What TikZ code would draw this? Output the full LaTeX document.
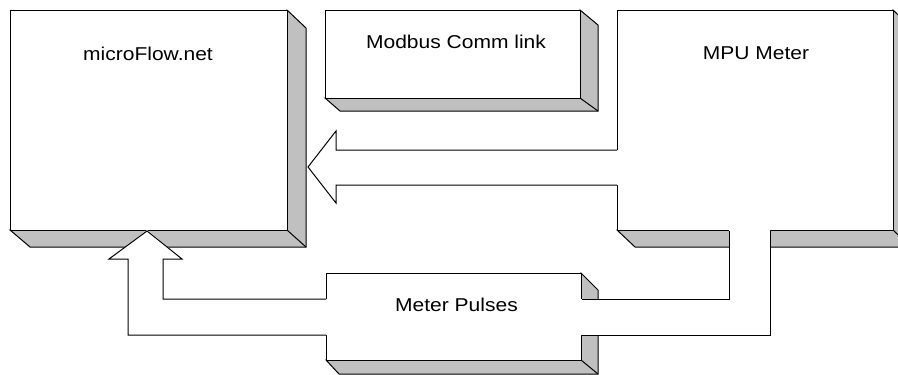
\documentclass[tikz,border=0pt]{standalone}
\usepackage{fontspec}
\newfontfamily\lab[FakeStretch=1.13]{Liberation Sans}
\usetikzlibrary{calc}
\definecolor{shade}{HTML}{C0C0C0}
\tikzset{
  face/.style={draw=black, fill=white, line width=1pt, rectangle, inner sep=0pt, anchor=north west},
  sidepart/.style={draw=black, fill=shade, line width=1pt, line join=miter},
  pipefill/.style={fill=white, draw=none},
  pipeline/.style={draw=black, line width=1pt, line join=miter},
  txt/.style={font=\lab\fontsize{18.6}{22}\selectfont, anchor=base, inner sep=0pt}
}
\begin{document}
\begin{tikzpicture}[x=1pt,y=-1pt]
\clip (0,0) rectangle (898,375);
\fill[white] (0,0) rectangle (898,375);

% microFlow.net box
\draw[sidepart] (287,10) -- (306,28) -- (306,247) -- (30,247) -- (10,230) -- (287,230) -- cycle;
\draw[pipeline] (287,230) -- (306,247);
\node[face, minimum width=277pt, minimum height=220pt] (mf) at (10,10) {};
\node[txt] (mft) at (148,60) {microFlow.net};

% Modbus box
\draw[sidepart] (580,10) -- (598,25) -- (598,111) -- (340,111) -- (325,98) -- (580,98) -- cycle;
\draw[pipeline] (580,98) -- (598,111);
\node[face, minimum width=255pt, minimum height=88pt] (mb) at (325,10) {};
\node[txt] (mbt) at (456,48) {Modbus Comm link};

% MPU Meter box
\draw[sidepart] (893,10) -- (911,27) -- (911,247) -- (635,247) -- (617,230) -- (893,230) -- cycle;
\draw[pipeline] (893,230) -- (911,247);
\node[face, minimum width=276pt, minimum height=220pt] (mpu) at (617,10) {};
\node[txt] (mput) at (756,59) {MPU Meter};

% Meter Pulses box
\draw[sidepart] (581,273) -- (598,290) -- (598,374) -- (339,374) -- (326,360) -- (581,360) -- cycle;
\draw[pipeline] (581,360) -- (598,374);
\node[face, minimum width=255pt, minimum height=87pt] (mp) at (326,273) {};

% block arrow MPU -> microFlow
\coordinate (tipA) at ($(mf.east |- 0,167)+(20,0)$);
\fill[pipefill] ($(mpu.north west)+(3,140)$) -- (336,150) -- (336,131) -- (tipA) -- (336,203) -- (336,185) -- ($(mpu.north west)+(3,175)$) -- cycle;
\draw[pipeline] (mpu.north west |- 0,150) -- (336,150) -- (336,131) -- (tipA) -- (336,203) -- (336,185) -- (mpu.north west |- 0,185);

% pipe MPU -> Meter Pulses (right side)
\fill[pipefill] (729,229) -- (729,299) -- (580,299) -- (580,335) -- (770,335) -- (770,229) -- cycle;
\draw[pipeline] (mpu.south west -| 729,0) -- (729,299) -- (mp.north east |- 0,299);
\draw[pipeline] (mp.north east |- 0,335) -- (770,335) -- (mpu.south west -| 770,0);

% block arrow Meter Pulses -> microFlow (left side)
\fill[pipefill] (327,299) -- (163,299) -- (163,259) -- (182,259) -- (147,230) -- (109,259) -- (128,259) -- (128,335) -- (327,335) -- cycle;
\draw[pipeline] (mp.north west |- 0,299) -- (163,299) -- (163,259) -- (182,259) -- (mf.south west -| 147,0) -- (109,259) -- (128,259) -- (128,335) -- (mp.north west |- 0,335);

\node[txt] (mpt) at (456.5,311) {Meter Pulses};
\end{tikzpicture}
\end{document}
